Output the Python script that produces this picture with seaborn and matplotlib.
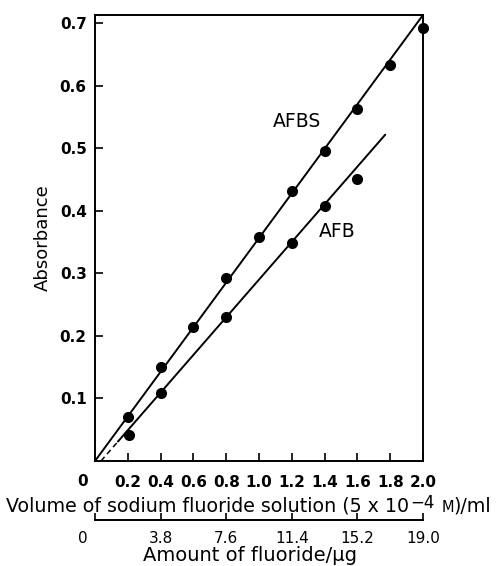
import numpy as np
import pandas as pd
import matplotlib
matplotlib.use("Agg")
import matplotlib.pyplot as plt
import seaborn as sns

# Absorbance readings against volume of NaF solution (ml)
afbs_volume = [0.2, 0.4, 0.6, 0.8, 1.0, 1.2, 1.4, 1.6, 1.8, 2.0]
afbs_absorbance = [0.071, 0.151, 0.215, 0.293, 0.358, 0.432, 0.496, 0.563, 0.633, 0.693]

afb_volume = [0.205, 0.4, 0.8, 1.2, 1.4, 1.6]
afb_absorbance = [0.041, 0.108, 0.231, 0.349, 0.408, 0.451]

# Calibration lines: slope, intercept, drawn range (solid), dashed extension
afbs_fit = (0.3565, 0.0)
afbs_range = (0.005, 2.0)
afb_fit = (0.301, -0.011)
afb_range = (0.14, 1.77)
afb_dash_range = (0.037, 0.14)

volume_ticks = [0.2, 0.4, 0.6, 0.8, 1.0, 1.2, 1.4, 1.6, 1.8, 2.0]
absorbance_ticks = [0.1, 0.2, 0.3, 0.4, 0.5, 0.6, 0.7]
fluoride_ticks = [0, 3.8, 7.6, 11.4, 15.2, 19.0]
ug_per_ml = 9.5

sns.set_style("ticks")
plt.rcParams["font.family"] = ["DejaVu Sans"]
plt.rcParams["mathtext.fontset"] = "dejavusans"
for key in ["text.color", "axes.labelcolor", "xtick.color", "ytick.color",
            "axes.edgecolor"]:
    plt.rcParams[key] = "black"

W, H = 504, 566
fig = plt.figure(figsize=(W / 100, H / 100), dpi=100)
ax = fig.add_axes([95 / W, 1 - 461 / H, (423 - 95) / W, (461 - 15) / H])

pts = pd.concat([
    pd.DataFrame({"volume": afbs_volume, "absorbance": afbs_absorbance, "reagent": "AFBS"}),
    pd.DataFrame({"volume": afb_volume, "absorbance": afb_absorbance, "reagent": "AFB"}),
])


def line_frame(fit, rng):
    x = np.array(rng)
    return pd.DataFrame({"volume": x, "absorbance": fit[0] * x + fit[1]})


sns.lineplot(data=line_frame(afbs_fit, afbs_range), x="volume", y="absorbance",
             ax=ax, color="black", lw=1.4, zorder=2)
sns.lineplot(data=line_frame(afb_fit, afb_range), x="volume", y="absorbance",
             ax=ax, color="black", lw=1.4, zorder=2)
sns.lineplot(data=line_frame(afb_fit, afb_dash_range), x="volume", y="absorbance",
             ax=ax, color="black", lw=1.1, linestyle=(0, (3.5, 2.5)), zorder=2)
sns.scatterplot(data=pts, x="volume", y="absorbance", ax=ax, color="black",
                s=64, edgecolor="black", linewidth=0, legend=False, zorder=3,
                clip_on=False)

ax.set_xlim(0, 2.0)
ax.set_ylim(0, 0.713)
ax.set_xticks(volume_ticks)
ax.set_xticklabels([f"{v:.1f}" for v in volume_ticks])
ax.set_yticks(absorbance_ticks)
ax.set_yticklabels([f"{v:.1f}" for v in absorbance_ticks])
ax.tick_params(axis="x", direction="in", length=6, width=1.2, pad=10,
               labelsize=11)
ax.tick_params(axis="y", direction="in", length=6, width=1.2, pad=6,
               labelsize=11)
for lbl in ax.get_xticklabels() + ax.get_yticklabels():
    lbl.set_fontweight("bold")
for sp in ax.spines.values():
    sp.set_visible(True)
    sp.set_linewidth(1.4)
ax.set_xlabel("")
ax.set_ylabel("")

ax.text(1.23, 0.542, "AFBS", fontsize=13.5, ha="center", va="center")
ax.text(1.48, 0.367, "AFB", fontsize=13.5, ha="center", va="center")

# Second scale: amount of fluoride delivered
sec = ax.secondary_xaxis(-(520 - 461) / (461 - 15),
                         functions=(lambda v: v * ug_per_ml, lambda f: f / ug_per_ml))
sec.set_xticks(fluoride_ticks)
sec.set_xticklabels([""] + [f"{v:.1f}" for v in fluoride_ticks[1:]])
sec.tick_params(direction="in", length=5, width=1.2, pad=8, labelsize=11)
sec.spines["bottom"].set_linewidth(1.4)

# Shared origin labels
fig.text(83 / W, 1 - 482 / H, "0", fontsize=11, fontweight="bold", ha="center", va="center")
fig.text(83 / W, 1 - 538.5 / H, "0", fontsize=11, ha="center", va="center")

fig.text(43 / W, 1 - 238 / H, "Absorbance", fontsize=13, rotation=90,
         ha="center", va="center")

# Volume label assembled from pieces (superscript and small-capital M)
t1 = fig.text(6 / W, 1 - 512 / H, "Volume of sodium fluoride solution (5 x 10",
              fontsize=13.7, ha="left", va="baseline")
t2 = ax.annotate("\u22124", xy=(1, 1), xycoords=t1, xytext=(0.5, 2.5),
                 textcoords="offset points", fontsize=12, ha="left", va="top",
                 annotation_clip=False)
t3 = ax.annotate("M", xy=(1, 0), xycoords=(t2, t1), xytext=(5, 0.8),
                 textcoords="offset points", fontsize=10.5, ha="left", va="bottom",
                 annotation_clip=False)
t4 = ax.annotate(")/ml", xy=(1, 0), xycoords=(t3, t1),
                 fontsize=13.7, ha="left", va="bottom", annotation_clip=False)

fig.text(250 / W, 1 - 561 / H, "Amount of fluoride/\u03bcg", fontsize=14,
         ha="center", va="baseline")

fig.savefig("out.png", dpi=100)
